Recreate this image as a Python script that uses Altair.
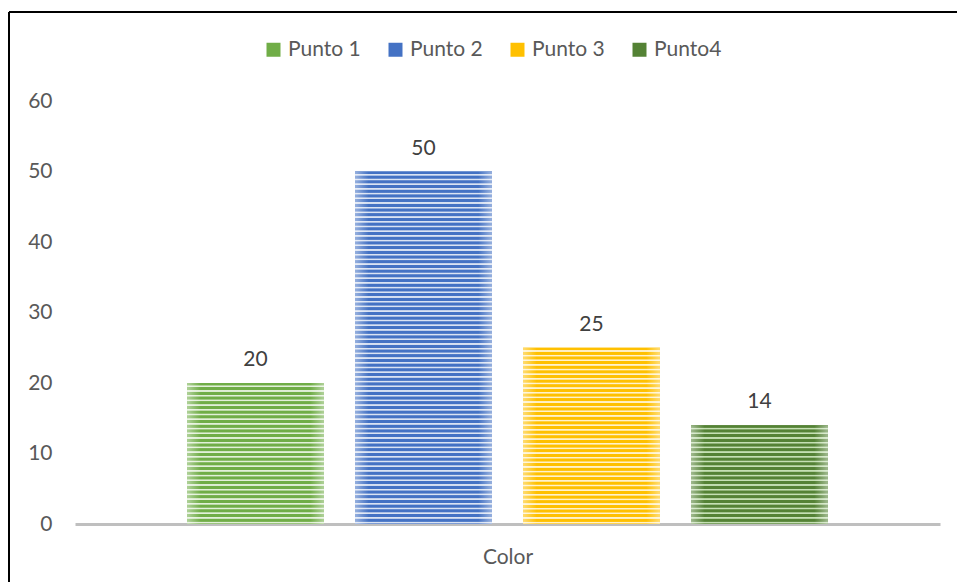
import altair as alt
import pandas as pd

# Series shown as clustered columns in the single "Color" group
series = ["Punto 1", "Punto 2", "Punto 3", "Punto4"]
values = [20, 50, 25, 14]
base_colors = ["#70AD47", "#4472C4", "#FFC000", "#548235"]
light_colors = ["#E2F0D9", "#DAE3F3", "#FFF2CC", "#C5E0B4"]

STRIPES_PER_UNIT = 1.5  # horizontal stripe density of the column fill
FONT = "Lato"
TEXT_COLOR = "#595959"

df = pd.DataFrame({"series": series, "value": values})

x_enc = alt.X(
    "series:N",
    sort=series,
    scale=alt.Scale(paddingInner=0.185, paddingOuter=0.667),
    axis=alt.Axis(
        title="Color",
        labels=False,
        ticks=False,
        grid=False,
        domainColor="#BFBFBF",
        domainWidth=3,
        titleFont=FONT,
        titleFontSize=21,
        titleFontWeight="normal",
        titleColor=TEXT_COLOR,
        titlePadding=22,
    ),
)
y_enc = alt.Y(
    "value:Q",
    scale=alt.Scale(domain=[0, 60], nice=False),
    axis=alt.Axis(
        title=None,
        values=[0, 10, 20, 30, 40, 50, 60],
        domain=False,
        ticks=False,
        grid=False,
        labelPadding=23,
        labelFont=FONT,
        labelFontSize=21,
        labelColor=TEXT_COLOR,
    ),
)


def stripe_gradient(dark, light, n):
    """Vertical gradient that repeats a dark/light band n times."""
    stops = []
    for k in range(n):
        a = k / n
        step = 1.0 / n
        stops.append(alt.GradientStop(offset=a, color=dark))
        stops.append(alt.GradientStop(offset=a + 0.45 * step, color=dark))
        stops.append(alt.GradientStop(offset=a + 0.6 * step, color=light))
        stops.append(alt.GradientStop(offset=a + 0.8 * step, color=light))
        stops.append(alt.GradientStop(offset=min(a + 0.95 * step, 1.0), color=dark))
    return alt.LinearGradient(gradient="linear", stops=stops, x1=0, x2=0, y1=0, y2=1)


# Solid columns carry the legend
base = (
    alt.Chart(df)
    .mark_bar()
    .encode(
        x=x_enc,
        y=y_enc,
        color=alt.Color(
            "series:N",
            sort=series,
            scale=alt.Scale(domain=series, range=base_colors),
            legend=alt.Legend(
                title=None,
                orient="none",
                legendX=188,
                legendY=-62,
                direction="horizontal",
                symbolType="square",
                symbolSize=196,
                symbolStrokeWidth=0,
                labelFont=FONT,
                labelFontSize=21,
                labelColor=TEXT_COLOR,
                labelOffset=4,
                columnPadding=24,
            ),
        ),
    )
)

# Striped fill drawn over each column
stripe_layers = []
for name, val, dark, light in zip(series, values, base_colors, light_colors):
    n = max(1, round(val * STRIPES_PER_UNIT))
    stripe_layers.append(
        alt.Chart(df)
        .transform_filter(alt.datum.series == name)
        .mark_bar(fill=stripe_gradient(dark, light, n))
        .encode(x=x_enc, y=y_enc)
    )

# Soft light fade at the left and right edges of every column
edge = alt.LinearGradient(
    gradient="linear",
    x1=0, x2=1, y1=0, y2=0,
    stops=[
        alt.GradientStop(offset=0, color="rgba(255,255,255,0.45)"),
        alt.GradientStop(offset=0.1, color="rgba(255,255,255,0)"),
        alt.GradientStop(offset=0.9, color="rgba(255,255,255,0)"),
        alt.GradientStop(offset=1, color="rgba(255,255,255,0.45)"),
    ],
)
edges = alt.Chart(df).mark_bar(fill=edge).encode(x=x_enc, y=y_enc)

labels = (
    alt.Chart(df)
    .mark_text(dy=-17, baseline="alphabetic", font=FONT, fontSize=21, color="#404040")
    .encode(x=x_enc, y=y_enc, text=alt.Text("value:Q"))
)

# Chart frame (left and top edges)
one = pd.DataFrame({"k": [0]})
frame_left = alt.Chart(one).mark_rule(color="#000000", strokeWidth=2).encode(
    x=alt.value(-66), y=alt.value(-89), y2=alt.value(500)
)
frame_top = alt.Chart(one).mark_rule(color="#000000", strokeWidth=2).encode(
    x=alt.value(-66), x2=alt.value(900), y=alt.value(-89)
)

chart = (
    alt.layer(base, *stripe_layers, edges, labels, frame_left, frame_top)
    .properties(
        width=865,
        height=423,
        autosize=alt.AutoSizeParams(type="none"),
        padding={"left": 75, "top": 101, "right": 17, "bottom": 58},
        view=alt.ViewBackground(strokeWidth=0, strokeOpacity=0),
    )
    .configure_view(strokeWidth=0, strokeOpacity=0)
    .configure(background="white")
)

chart.save("out.html", embed_options={"renderer": "svg", "actions": False})
